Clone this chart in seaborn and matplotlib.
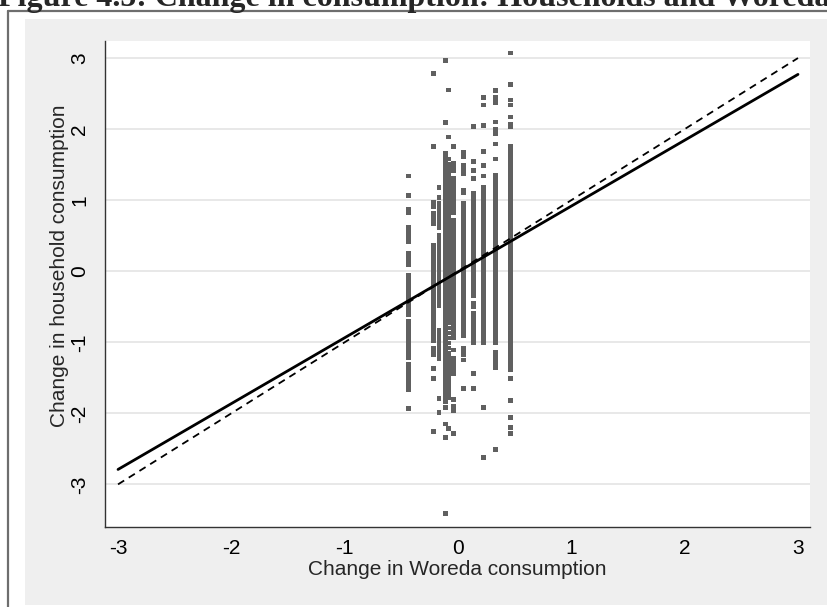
import matplotlib
matplotlib.use("Agg")
import matplotlib.pyplot as plt
from matplotlib.patches import Rectangle
from matplotlib.lines import Line2D
import seaborn as sns
import pandas as pd

# ---------------- data ----------------
col_x = [-0.44, -0.215, -0.168, -0.108, -0.085, -0.04, 0.045, 0.135, 0.227, 0.33, 0.465]

c1 = [1.34, 1.07, 0.87, 0.82, 0.62, 0.57, 0.52, 0.47, 0.42, 0.25, 0.20, 0.15, 0.10,
      -0.06, -0.11, -0.16, -0.21, -0.26, -0.31, -0.36, -0.41, -0.46, -0.51, -0.56, -0.61,
      -0.71, -0.76, -0.81, -0.86, -0.91, -0.96, -1.01, -1.06, -1.11, -1.16, -1.21,
      -1.31, -1.36, -1.41, -1.46, -1.51, -1.56, -1.61, -1.66, -1.93]
c2 = [2.78, 1.75, 0.97, 0.91, 0.82, 0.77, 0.72, 0.67, 0.37, 0.32, 0.27, 0.22, 0.17, 0.12,
      0.07, 0.02, -0.03, -0.08, -0.13, -0.18, -0.23, -0.28, -0.33, -0.38, -0.43, -0.48,
      -0.53, -0.58, -0.63, -0.68, -0.73, -0.78, -0.83, -0.88, -0.93, -0.98, -1.08, -1.13,
      -1.18, -1.37, -1.51, -2.26]
c3 = [1.18, 1.04, 0.96, 0.91, 0.86, 0.81, 0.76, 0.71, 0.66, 0.62, 0.51, 0.46, 0.41, 0.36,
      0.31, 0.26, 0.21, 0.16, 0.11, 0.06, 0.01, -0.04, -0.09, -0.14, -0.19, -0.24, -0.29,
      -0.34, -0.39, -0.44, -0.49, -0.83, -0.88, -0.93, -0.98, -1.03, -1.08, -1.13, -1.18,
      -1.23, -1.79, -1.99]
c4a = [2.97, 2.09, 1.66, 1.61, 1.56, 1.51, 1.46, 1.41, 1.36, 1.31, 1.26, 1.21, 1.16, 1.11,
       1.06, 1.01, 0.96, 0.91, 0.86, 0.81, 0.76, 0.71, 0.66, 0.61, 0.56, 0.51, 0.46, 0.41,
       0.36, 0.31, 0.26, 0.21, 0.16, 0.11, 0.06, 0.01, -0.04, -0.09, -0.14, -0.19, -0.24,
       -0.29, -0.34, -0.39, -0.44, -0.49, -0.54, -0.59, -0.64, -0.69, -0.74, -0.79, -0.84,
       -0.89, -0.94, -0.99, -1.04, -1.09, -1.14, -1.19, -1.24, -1.29, -1.34, -1.39, -1.44,
       -1.49, -1.54, -1.59, -1.64, -1.69, -1.74, -1.79, -1.84, -1.92, -2.15, -2.34, -3.41]
c4b = [2.55, 1.89, 1.58, 1.51, 1.44, 1.37, 1.30, 1.23, 1.16, 1.09, 1.02, 0.95, 0.88, 0.81,
       0.74, 0.67, 0.60, 0.53, 0.46, 0.39, 0.32, 0.25, 0.18, 0.11, 0.04, -0.03, -0.10, -0.17,
       -0.24, -0.31, -0.38, -0.45, -0.52, -0.59, -0.66, -0.73, -0.80, -0.87, -0.94, -1.01,
       -1.08, -1.15, -1.22, -1.29, -1.36, -1.43, -1.50, -1.57, -1.64, -1.71, -1.78, -2.21]
c5 = [1.76, 1.52, 1.47, 1.42, 1.30, 1.25, 1.18, 1.13, 1.08, 1.03, 0.98, 0.93, 0.88, 0.83,
      0.72, 0.67, 0.62, 0.57, 0.52, 0.47, 0.42, 0.37, 0.32, 0.27, 0.22, 0.17, 0.12, 0.07,
      0.02, -0.03, -0.08, -0.13, -0.18, -0.23, -0.28, -0.33, -0.38, -0.43, -0.48, -0.53,
      -0.58, -0.63, -0.68, -0.73, -0.78, -0.83, -0.88, -0.93, -1.11, -1.23, -1.28, -1.33,
      -1.38, -1.44, -1.80, -1.90, -1.96, -2.28]
c6 = [1.67, 1.61, 1.49, 1.44, 1.38, 1.14, 1.10, 0.96, 0.91, 0.86, 0.81, 0.76, 0.71, 0.66,
      0.61, 0.56, 0.51, 0.46, 0.41, 0.36, 0.31, 0.26, 0.21, 0.16, 0.11, 0.06, 0.01, -0.04,
      -0.09, -0.14, -0.19, -0.24, -0.29, -0.34, -0.39, -0.44, -0.49, -0.54, -0.59, -0.64,
      -0.69, -0.74, -0.79, -0.84, -0.90, -1.08, -1.13, -1.18, -1.25, -1.65]
c7 = [2.04, 1.54, 1.42, 1.30, 1.10, 1.05, 1.00, 0.95, 0.90, 0.85, 0.80, 0.75, 0.70, 0.65,
      0.60, 0.55, 0.50, 0.45, 0.40, 0.35, 0.30, 0.25, 0.20, 0.15, 0.10, 0.05, 0.00, -0.05,
      -0.10, -0.15, -0.20, -0.25, -0.30, -0.35, -0.45, -0.50, -0.60, -0.65, -0.70, -0.75,
      -0.80, -0.85, -0.90, -0.95, -1.01, -1.44, -1.65]
c8 = [2.44, 2.34, 2.05, 1.68, 1.49, 1.34, 1.18, 1.13, 1.08, 1.03, 0.98, 0.93, 0.88, 0.83,
      0.78, 0.73, 0.68, 0.63, 0.58, 0.53, 0.48, 0.43, 0.38, 0.33, 0.28, 0.23, 0.18, 0.13,
      0.08, 0.03, -0.02, -0.07, -0.12, -0.17, -0.22, -0.27, -0.32, -0.37, -0.42, -0.47,
      -0.52, -0.57, -0.62, -0.67, -0.72, -0.77, -0.82, -0.87, -0.92, -0.97, -1.01, -1.92,
      -2.62]
c9 = [2.54, 2.44, 2.37, 2.10, 1.99, 1.94, 1.79, 1.58, 1.35, 1.30, 1.25, 1.20, 1.15, 1.10,
      1.05, 1.00, 0.95, 0.90, 0.85, 0.80, 0.75, 0.70, 0.65, 0.60, 0.55, 0.50, 0.45, 0.40,
      0.35, 0.30, 0.25, 0.20, 0.15, 0.10, 0.05, 0.00, -0.05, -0.10, -0.15, -0.20, -0.25,
      -0.30, -0.35, -0.40, -0.45, -0.50, -0.55, -0.60, -0.65, -0.70, -0.75, -0.80, -0.85,
      -0.90, -0.95, -1.01, -1.14, -1.20, -1.26, -1.31, -1.35, -2.51]
c10 = [3.07, 2.63, 2.41, 2.34, 2.17, 2.06, 2.03, 1.76, 1.71, 1.66, 1.61, 1.56, 1.51, 1.46,
       1.41, 1.36, 1.31, 1.26, 1.21, 1.16, 1.11, 1.06, 1.01, 0.96, 0.91, 0.86, 0.81, 0.76,
       0.71, 0.66, 0.61, 0.56, 0.51, 0.46, 0.41, 0.36, 0.31, 0.26, 0.21, 0.16, 0.11, 0.06,
       0.01, -0.04, -0.09, -0.14, -0.19, -0.24, -0.29, -0.34, -0.39, -0.44, -0.49, -0.54,
       -0.59, -0.64, -0.69, -0.74, -0.79, -0.84, -0.89, -0.94, -0.99, -1.04, -1.09, -1.14,
       -1.19, -1.24, -1.29, -1.34, -1.39, -1.51, -1.82, -2.06, -2.20, -2.28]

col_y = [c1, c2, c3, c4a, c4b, c5, c6, c7, c8, c9, c10]

line_x = [-3, 3]
fit_y = [-2.79, 2.77]
diag_y = [-3, 3]

x_ticks = [-3, -2, -1, 0, 1, 2, 3]
y_ticks = [-3, -2, -1, 0, 1, 2, 3]

title_text = "Figure 4.5: Change in consumption: Households and Woreda"
x_label = "Change in Woreda consumption"
y_label = "Change in household consumption"

# ---------------- build table ----------------
rows = []
for xv, ys in zip(col_x, col_y):
    for yv in ys:
        rows.append((xv, yv))
df = pd.DataFrame(rows, columns=["x", "y"])
lines_df = pd.DataFrame({"x": line_x, "fit": fit_y, "diag": diag_y})

# ---------------- figure ----------------
sns.set_style("white")
plt.rcParams["font.family"] = ["Liberation Sans", "DejaVu Sans"]

W, H = 827, 607
fig = plt.figure(figsize=(W / 100, H / 100), dpi=100)
fig.patch.set_facecolor("white")

# outer gray panel and frame (Stata-like)
fig.patches.append(Rectangle((25 / W, 2 / H), 1 - 25 / W, (605 - 19) / H,
                             transform=fig.transFigure, facecolor="#efefef",
                             edgecolor="none", zorder=-10))
fig.lines.append(Line2D([8 / W, 8 / W], [0, 1 - 11 / H], transform=fig.transFigure,
                        color="#6e6e6e", lw=1.6, zorder=-5))
fig.lines.append(Line2D([8 / W, 1.0], [1 - 11 / H, 1 - 11 / H], transform=fig.transFigure,
                        color="#6e6e6e", lw=1.6, zorder=-5))

fig.text(-2 / W, 1 - 6 / H, title_text, fontsize=23, fontweight="bold",
         family=["Liberation Serif", "DejaVu Serif"], ha="left", va="baseline")

ax = fig.add_axes([105 / W, 1 - 527 / H, (810 - 105) / W, (527 - 41) / H])
ax.set_zorder(5)
ax.set_facecolor("white")

sns.scatterplot(data=df, x="x", y="y", ax=ax, marker="s", s=12, color="#606060",
                linewidth=0, edgecolor="none", zorder=2)
sns.lineplot(data=lines_df, x="x", y="diag", ax=ax, color="black", lw=1.3,
             linestyle=(0, (4, 3)), zorder=3)
sns.lineplot(data=lines_df, x="x", y="fit", ax=ax, color="black", lw=2.0, zorder=4)

ax.set_xlim(-3.115, 3.106)
ax.set_ylim(-3.6, 3.24)
ax.set_xticks(x_ticks)
ax.set_yticks(y_ticks)
ax.set_xticklabels([str(v) for v in x_ticks])
ax.set_yticklabels([str(v) for v in y_ticks])

ax.yaxis.grid(True, color="#e4e4e4", lw=1.2)
ax.xaxis.grid(False)
ax.set_axisbelow(True)

for side in ["top", "right"]:
    ax.spines[side].set_visible(False)
for side in ["left", "bottom"]:
    ax.spines[side].set_color("#333333")
    ax.spines[side].set_linewidth(1.0)

ax.tick_params(axis="both", direction="out", length=6.3, width=0.9, color="#333333",
               labelsize=15, labelcolor="black")
ax.tick_params(axis="x", pad=2)
ax.tick_params(axis="y", pad=5)
for lab in ax.get_yticklabels():
    lab.set_rotation(90)
    lab.set_va("center")

ax.set_xlabel(x_label, fontsize=15)
ax.set_ylabel(y_label, fontsize=15)
ax.xaxis.set_label_coords(0.5, -0.088)
ax.yaxis.set_label_coords(-0.064, 0.537)
ax.xaxis.label.set_va("center")
ax.yaxis.label.set_va("center")

fig.savefig("out.png", dpi=100)
